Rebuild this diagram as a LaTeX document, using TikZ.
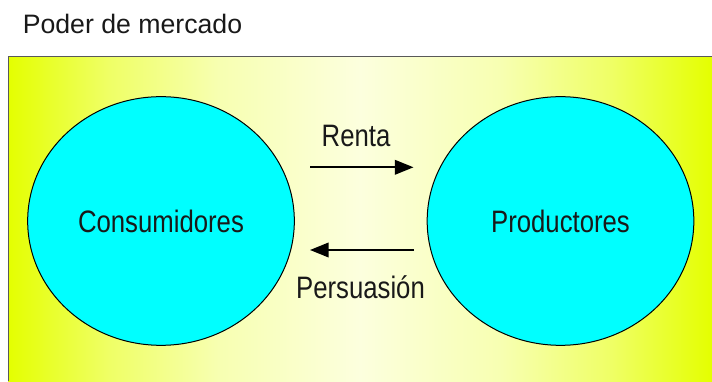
\documentclass[tikz,border=0pt]{standalone}
\usepackage{fontspec}
\setmainfont{Liberation Sans}
\newfontfamily\narrowsans[FakeStretch=0.83]{Liberation Sans}
\usepackage{tikz}
\usetikzlibrary{arrows.meta, shapes.geometric}
\definecolor{paperEdge}{RGB}{228,255,0}
\definecolor{paperMid}{RGB}{252,255,222}
\colorlet{paperOuter}{paperEdge!55!paperMid}
\colorlet{paperInner}{paperEdge!20!paperMid}
\definecolor{partyCyan}{RGB}{0,255,255}
\definecolor{inkGray}{RGB}{25,25,25}
\pgfdeclarehorizontalshading{papershade}{100bp}{color(0bp)=(paperEdge); color(25bp)=(paperEdge);
  color(32bp)=(paperOuter); color(40bp)=(paperInner); color(50bp)=(paperMid);
  color(60bp)=(paperInner); color(68bp)=(paperOuter); color(75bp)=(paperEdge); color(100bp)=(paperEdge)}
\tikzset{
  party/.style={ellipse, draw=black, line width=0.75pt, fill=partyCyan,
    minimum width=200pt, minimum height=186.5pt, inner sep=0pt,
    font=\narrowsans\fontsize{23.25}{26}\selectfont, text=inkGray},
  flow/.style={line width=1.2pt, -{Triangle[length=14pt, width=11pt]}},
  flowlabel/.style={anchor=base, inner sep=0pt,
    font=\narrowsans\fontsize{23.25}{26}\selectfont, text=inkGray}
}

\begin{document}
\begin{tikzpicture}[x=0.75pt, y=0.75pt]
  \useasboundingbox (0,0) rectangle (712,381);
  % market area
  \shade [shading=papershade] (8,0) rectangle (712,324);
  \draw [line width=0.75pt, black!65] (712,324) -- (8,324) -- (8,0);
  \node [anchor=base west, inner sep=0pt, font=\fontsize{20}{24}\selectfont, text=inkGray] (title) at (22.5,347.7) {Poder de mercado};

  \node [party] (cons) at (161,160) {Consumidores};
  \node [party] (prod) at (560.5,160) {Productores};

  \coordinate (rentaL) at (310,213.7);
  \coordinate (rentaR) at (413.5,213.7);
  \coordinate (persL) at (310,131);
  \coordinate (persR) at (414,131);
  \draw [flow] (rentaL) -- (rentaR);
  \draw [flow] (persR) -- (persL);
  \node [flowlabel] (renta) at (356,234.3) {Renta};
  \node [flowlabel] (pers) at (360.5,82.7) {Persuasión};
\end{tikzpicture}
\end{document}
